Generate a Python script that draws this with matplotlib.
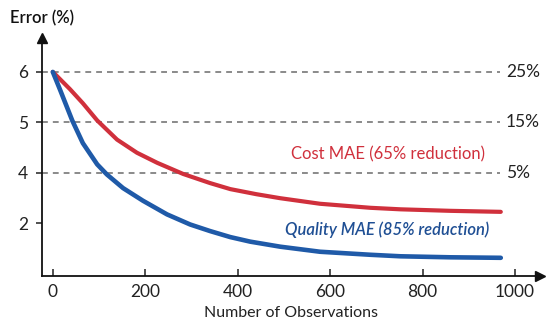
import matplotlib
matplotlib.use("Agg")
import matplotlib.pyplot as plt

# Data
obs_cost = [0, 37, 65, 96, 139, 182, 226, 282, 340, 384, 440, 492, 578, 687, 752, 860, 969]
cost_mae = [6.00, 5.66, 5.38, 5.04, 4.66, 4.40, 4.20, 3.98, 3.80, 3.68, 3.58, 3.50, 3.39,
            3.31, 3.28, 3.25, 3.23]
obs_quality = [0, 16, 42, 65, 96, 117, 152, 195, 247, 297, 340, 384, 427, 492, 578, 687,
               752, 860, 969]
quality_mae = [6.00, 5.64, 5.04, 4.59, 4.17, 3.97, 3.70, 3.45, 3.18, 2.98, 2.85, 2.73, 2.64,
               2.54, 2.44, 2.38, 2.35, 2.33, 2.32]

x_ticks = [0, 200, 400, 600, 800, 1000]
y_ticks = [6, 5, 4, 3]
y_tick_labels = ["6", "5", "4", "2"]
ref_levels = [6, 5, 4]
ref_labels = ["25%", "15%", "5%"]

plt.rcParams['font.family'] = ['Lato', 'DejaVu Sans']

fig = plt.figure(figsize=(5.51, 3.25), dpi=100)
ax = fig.add_axes([0.0762, 0.1508, 0.904, 0.732])

red = "#d0303c"
blue = "#1f5aa8"

ax.plot(obs_cost, cost_mae, color=red, lw=3.0, solid_capstyle='round',
        solid_joinstyle='round', zorder=3)
ax.plot(obs_quality, quality_mae, color=blue, lw=3.3, solid_capstyle='round',
        solid_joinstyle='round', zorder=3)

x_left, x_right = -23.4, 1054
ax.set_xlim(x_left, x_right)
ax.set_ylim(1.96, 6.67)

for lvl, lab in zip(ref_levels, ref_labels):
    ax.plot([x_left, 968], [lvl, lvl], color="#777777", lw=1.2, ls=(0, (3.5, 3)), zorder=1)
    ax.text(980, lvl, lab, ha='left', va='center', fontsize=12.5, color="#222222")

ax.text(725, 4.36, "Cost MAE (65% reduction)", color=red, fontsize=12,
        ha='center', va='center')
ax.text(724, 2.87, "Quality MAE (85% reduction)", color="#1f4f94", fontsize=12,
        ha='center', va='center', style='italic', fontweight='semibold')

for s in ['top', 'right']:
    ax.spines[s].set_visible(False)
for s in ['left', 'bottom']:
    ax.spines[s].set_linewidth(1.3)
    ax.spines[s].set_color("#111111")

ax.plot(1, 0, marker='>', color="#111111", markersize=7, transform=ax.transAxes, clip_on=False)
ax.plot(0, 1, marker='^', color="#111111", markersize=7, transform=ax.transAxes, clip_on=False)

ax.set_xticks(x_ticks)
ax.set_yticks(y_ticks)
ax.set_yticklabels(y_tick_labels)
ax.tick_params(axis='x', direction='in', length=5, width=1.1, labelsize=12.5, colors="#222222", pad=6)
ax.tick_params(axis='y', direction='out', length=4, width=1.1, labelsize=12.5, colors="#222222", pad=6)

ax.set_xlabel("Number of Observations", fontsize=11.5, color="#222222", labelpad=4)
fig.text(0.018, 0.945, "Error (%)", fontsize=12, color="#111111", ha='left', va='center',
         fontweight='semibold')

fig.savefig("out.png", dpi=100, facecolor='white')
